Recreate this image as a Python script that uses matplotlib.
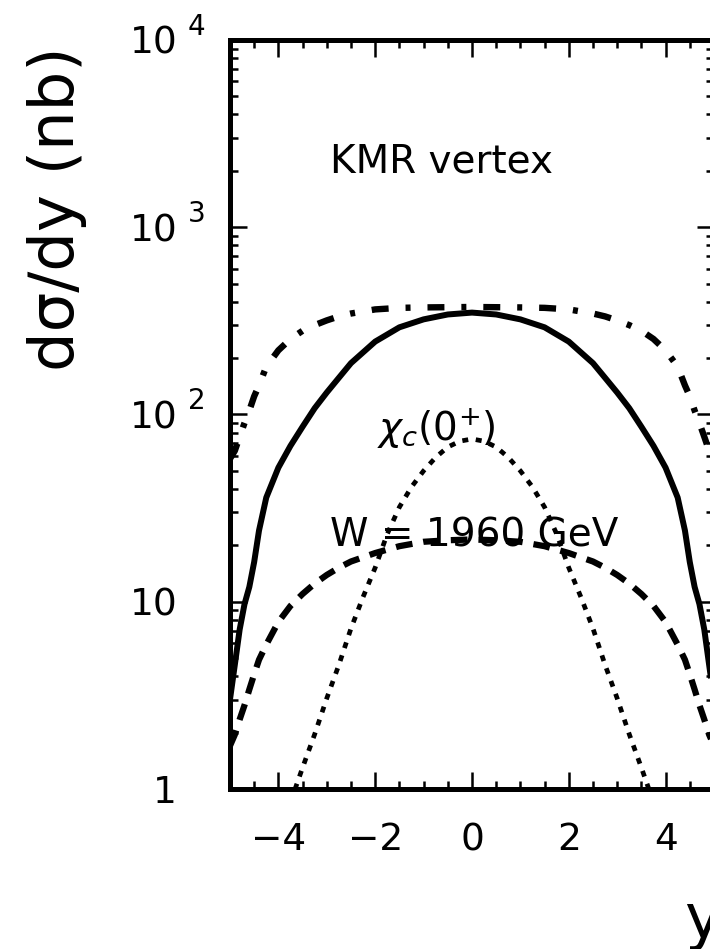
import matplotlib
matplotlib.use("Agg")
import matplotlib.pyplot as plt
from matplotlib.ticker import MultipleLocator, LogLocator, NullFormatter, FixedLocator, FixedFormatter

plt.rcParams['font.family'] = ['DejaVu Sans']
plt.rcParams['mathtext.fontset'] = 'dejavusans'
plt.rcParams['lines.scale_dashes'] = False

# rapidity grid and dsigma/dy in nb
rap = [-5.0, -4.9, -4.8, -4.7, -4.6, -4.5, -4.4, -4.25, -4.0, -3.75, -3.5, -3.25,
       -3.0, -2.75, -2.5, -2.0, -1.5, -1.0, -0.5, 0.0, 0.5, 1.0, 1.5, 2.0, 2.5,
       2.75, 3.0, 3.25, 3.5, 3.75, 4.0, 4.25, 4.4, 4.5, 4.6, 4.7, 4.8, 4.9, 5.0]

dsig_solid = [3.0, 4.6, 7.1, 9.7, 12, 16.3, 24, 36, 52, 68, 86, 108,
              131, 157, 188, 245, 292, 322, 342, 350, 342, 322, 292, 245, 188,
              157, 131, 108, 86, 68, 52, 36, 24, 16.3, 12, 9.7, 7.1, 4.6, 3.0]

dsig_dashdot = [58, 64, 76, 90, 105, 125, 143, 180, 220, 253, 280, 300,
                318, 334, 346, 364, 371, 373, 374, 375, 374, 373, 371, 364, 346,
                334, 318, 300, 280, 253, 220, 180, 143, 125, 105, 90, 76, 64, 58]

dsig_dashed = [1.7, 1.95, 2.35, 2.8, 3.4, 4.1, 4.9, 5.9, 7.8, 9.5, 11.0, 12.5,
               13.9, 15.2, 16.4, 18.2, 19.8, 20.9, 21.3, 21.5, 21.3, 20.9, 19.8, 18.2, 16.4,
               15.2, 13.9, 12.5, 11.0, 9.5, 7.8, 5.9, 4.9, 4.1, 3.4, 2.8, 2.35, 1.95, 1.7]

rap_chi = [-3.75, -3.5, -3.25, -3.0, -2.75, -2.5, -2.25, -2.0, -1.75, -1.5, -1.25,
           -1.0, -0.75, -0.5, -0.25, 0.0, 0.25, 0.5, 0.75, 1.0, 1.25, 1.5, 1.75,
           2.0, 2.25, 2.5, 2.75, 3.0, 3.25, 3.5, 3.75]
dsig_dotted = [0.85, 1.3, 1.96, 3.05, 4.6, 7.2, 10.6, 15.2, 23, 32, 41,
               50, 59, 67, 72, 74, 72, 67, 59, 50, 41, 32, 23,
               15.2, 10.6, 7.2, 4.6, 3.05, 1.96, 1.3, 0.85]

xticks = [-4, -2, 0, 2, 4]
ydecades = [1, 10, 100, 1000, 10000]
ybase_labels = ['1', '10', '10', '10', '10']
yexp_labels = ['', '', '2', '3', '4']

fig = plt.figure(figsize=(7.1, 9.49), dpi=100)
ax = fig.add_axes([0.3239, 0.1686, 0.6817, 0.7893])

ax.plot(rap, dsig_solid, color='black', lw=4.3, solid_capstyle='butt')
ax.plot(rap, dsig_dashdot, color='black', lw=4.6, dashes=(12.2, 12.2, 3.6, 12.2))
ax.plot(rap, dsig_dashed, color='black', lw=4.5, dashes=(12.0, 7.9))
ax.plot(rap_chi, dsig_dotted, color='black', lw=3.4, dashes=(4.3, 5.5))

ax.set_yscale('log')
ax.set_xlim(-5, 5)
ax.set_ylim(1, 1e4)

for s in ax.spines.values():
    s.set_linewidth(3.6)

ax.xaxis.set_major_locator(FixedLocator(xticks))
ax.xaxis.set_minor_locator(MultipleLocator(0.5))
ax.yaxis.set_major_locator(FixedLocator(ydecades))
ax.yaxis.set_major_formatter(FixedFormatter(ybase_labels))
ax.yaxis.set_minor_locator(LogLocator(base=10, subs=range(2, 10), numticks=20))
ax.yaxis.set_minor_formatter(NullFormatter())

ax.tick_params(which='both', direction='in', top=True, right=True, width=1.8,
               labelsize=27)
ax.tick_params(which='major', length=12)
ax.tick_params(which='minor', length=6)
ax.tick_params(axis='x', which='major', pad=24)
ax.tick_params(axis='y', which='major', pad=38)

# exponents of the decade labels
for val, e in zip(ydecades, yexp_labels):
    if e:
        ax.annotate(e, xy=(0, val), xycoords=('axes fraction', 'data'),
                    xytext=(-30.5, 3.6), textcoords='offset points',
                    ha='left', va='baseline', fontsize=20, annotation_clip=False)

ax.set_ylabel('dσ/dy (nb)', fontsize=45, loc='top')
ax.yaxis.set_label_coords(-0.296, 0.991)
ax.set_xlabel('y', fontsize=45, loc='right')
ax.xaxis.set_label_coords(1.0145, -0.136)

ax.text(-2.94, 1950, 'KMR vertex', fontsize=28, ha='left', va='baseline')
ax.text(-1.97, 71.8, r'$\chi_{c}(0^{+})$', fontsize=28, ha='left', va='baseline')
ax.text(-2.94, 19.8, 'W = 1960 GeV', fontsize=28, ha='left', va='baseline')

fig.savefig('out.png', dpi=100)
